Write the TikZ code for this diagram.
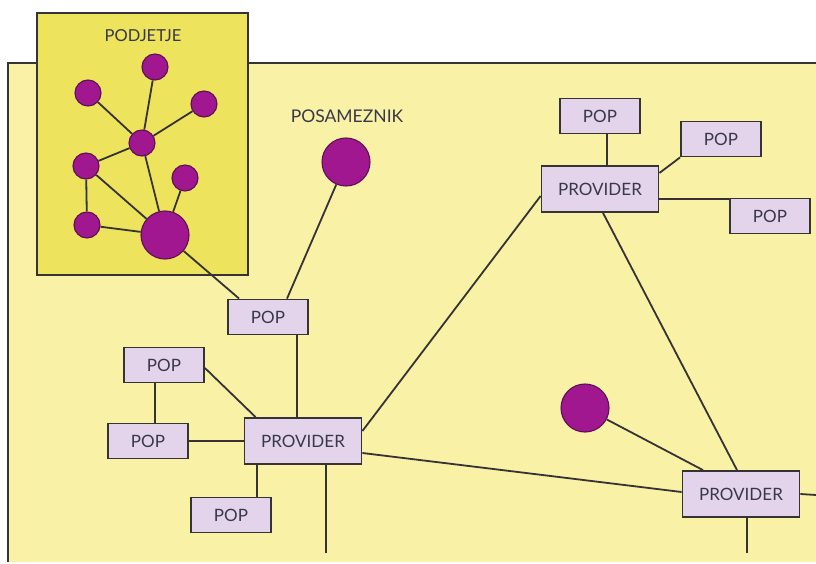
\documentclass[tikz,border=0pt]{standalone}
\usepackage{fontspec}
\setmainfont{Lato}
\usetikzlibrary{calc}
\definecolor{paleyel}{HTML}{F8F1A6}
\definecolor{brightyel}{HTML}{EDE35C}
\definecolor{lav}{HTML}{E3D4EC}
\definecolor{purp}{HTML}{A0178F}
\definecolor{purpdark}{HTML}{5C1055}
\definecolor{ink}{HTML}{353333}
\definecolor{txt}{HTML}{38384A}
\tikzset{
  box/.style={draw=ink, fill=lav, line width=1.8pt, inner sep=0pt, text=txt,
    font=\fontsize{17}{19}\selectfont},
  popbox/.style={box, minimum width=80pt, minimum height=35pt},
  provbox/.style={box, minimum width=117pt, minimum height=46pt},
  dot/.style={circle, fill=purp, draw=purpdark, line width=1.1pt, inner sep=0pt, minimum size=26pt},
  bigdot/.style={dot, minimum size=48pt},
  link/.style={draw=ink, line width=1.8pt},
  lbl/.style={text=txt, font=\fontsize{16.5}{18}\selectfont, inner sep=0pt}
}
\begin{document}
\begin{tikzpicture}[x=1pt,y=-1pt]
\useasboundingbox (0,0) rectangle (816,564);
\fill[white] (0,0) rectangle (816,564);
% main area
\fill[paleyel] (8,63) rectangle (816,562);
\draw[ink, line width=1.8pt] (8,562) -- (8,63) -- (816,63);
% company box
\draw[ink, fill=brightyel, line width=1.8pt] (37,13) rectangle (248,275);
\node[lbl] (podjetje) at (143,36) {PODJETJE};
\node[lbl, font=\fontsize{17.5}{19}\selectfont] (posameznik) at (347,116) {POSAMEZNIK};

% company network
\node[dot] (c1) at (155,67) {};
\node[dot] (c2) at (88,93) {};
\node[dot] (c3) at (204,104) {};
\node[dot] (hub) at (142,143) {};
\node[dot] (c4) at (86,166) {};
\node[dot] (c5) at (185,178) {};
\node[dot] (c6) at (87,225) {};
\node[bigdot] (big) at (165,235) {};

% individuals
\node[bigdot] (posa) at (346,162) {};
\node[bigdot] (ind2) at (585,408) {};

% boxes
\node[popbox] (pop1) at (268,317) {POP};
\node[popbox] (popA) at (164,365) {POP};
\node[popbox] (popB) at (148,441) {POP};
\node[provbox] (provL) at (303,441) {PROVIDER};
\node[popbox] (popC) at (231,515) {POP};
\node[popbox] (popT1) at (600,116) {POP};
\node[popbox] (popT2) at (721,139) {POP};
\node[provbox] (provTR) at (600,189) {PROVIDER};
\node[popbox] (popT3) at (770,216) {POP};
\node[provbox] (provBR) at (741,494) {PROVIDER};

\coordinate (endL) at (326,553);
\coordinate (endR) at (816,495);
\coordinate (endB) at (747,553);

% company links
\path[link] (c1) -- (hub);
\path[link] (c2) -- (hub);
\path[link] (c3) -- (hub);
\path[link] (hub) -- (c4);
\path[link] (hub) -- (big);
\path[link] (c4) -- (big);
\path[link] (c4) -- (c6);
\path[link] (c6) -- (big);
\path[link] (c5) -- (big);

% network links
\path[link] (big) -- ($(pop1.north west)+(12,0)$);
\path[link] (posa) -- ($(pop1.north)+(19,0)$);
\path[link] ($(pop1.south)+(29,0)$) -- ($(provL.north)+(-6,0)$);
\path[link] ($(popA.east)+(0,3)$) -- ($(provL.north west)+(12,0)$);
\path[link] ($(popA.south)+(-9,0)$) -- ($(popB.north)+(7,0)$);
\path[link] (popB.east) -- (provL.west);
\path[link] ($(provL.south)+(-46,0)$) -- ($(popC.north)+(26,0)$);
\path[link] ($(provL.south)+(23,0)$) -- (endL);
\path[link] ($(provL.east)+(0,-10)$) -- ($(provTR.west)+(0,7)$);
\path[link] ($(provL.east)+(0,12)$) -- ($(provBR.west)+(0,-2)$);
\path[link] ($(popT1.south)+(7,0)$) -- ($(provTR.north)+(7,0)$);
\path[link] (popT2.south west) -- ($(provTR.east)+(0,-16)$);
\path[link] ($(provTR.east)+(0,10)$) -- ($(popT3.west)+(0,-17)$);
\path[link] ($(provTR.south)+(3,0)$) -- ($(provBR.north)+(-4,0)$);
\path[link] (ind2) -- ($(provBR.north)+(-38,0)$);
\path[link] (provBR.east) -- (endR);
\path[link] ($(provBR.south)+(6,0)$) -- (endB);
\end{tikzpicture}
\end{document}
